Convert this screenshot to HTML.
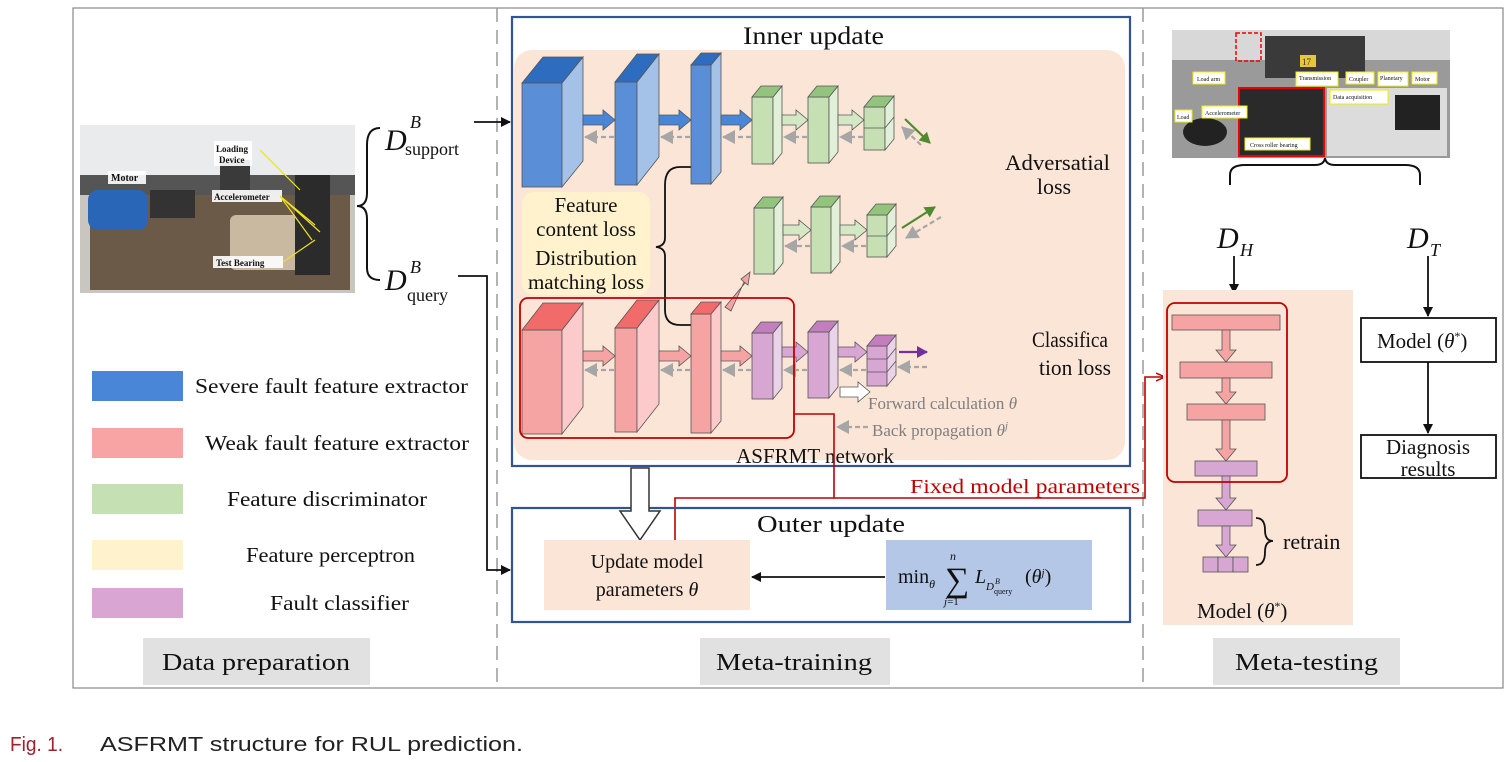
<!DOCTYPE html>
<html><head><meta charset="utf-8"><style>
html,body{margin:0;padding:0;background:#fff}
svg{display:block}
text{font-family:"Liberation Serif",serif;fill:#111}
</style></head><body>
<svg width="1512" height="762" viewBox="0 0 1512 762" xmlns="http://www.w3.org/2000/svg">
<defs>
<marker id="ah" markerWidth="10" markerHeight="10" refX="9" refY="5" orient="auto" markerUnits="userSpaceOnUse"><path d="M0,0 L10,5 L0,10 z" fill="#111"/></marker>
<marker id="ahr" markerWidth="10" markerHeight="10" refX="9" refY="5" orient="auto" markerUnits="userSpaceOnUse"><path d="M0,1 L9,5 L0,9" fill="none" stroke="#c00000" stroke-width="1.5"/></marker>
<marker id="ahg" markerWidth="14" markerHeight="14" refX="12" refY="7" orient="auto" markerUnits="userSpaceOnUse"><path d="M0,0 L13,7 L0,14 z" fill="#a6a6a6"/></marker>
<marker id="ahgr" markerWidth="12" markerHeight="12" refX="10" refY="6" orient="auto" markerUnits="userSpaceOnUse"><path d="M0,0 L11,6 L0,12 z" fill="#4e8a2e"/></marker>
<marker id="ahp" markerWidth="12" markerHeight="12" refX="10" refY="6" orient="auto" markerUnits="userSpaceOnUse"><path d="M0,0 L11,6 L0,12 z" fill="#7030a0"/></marker>
</defs>

<rect x="73" y="8" width="1430" height="680" fill="none" stroke="#888" stroke-width="1.2"/>
<line x1="497" y1="8" x2="497" y2="688" stroke="#999" stroke-width="1.5" stroke-dasharray="14,8"/>
<line x1="1143" y1="8" x2="1143" y2="688" stroke="#999" stroke-width="1.5" stroke-dasharray="14,8"/>

<!-- left photo -->
<rect x="80" y="125" width="275" height="168" fill="#c9c6bf"/>
<rect x="80" y="125" width="275" height="50" fill="#e9ebec"/>
<rect x="80" y="175" width="275" height="20" fill="#555"/>
<rect x="90" y="195" width="260" height="95" fill="#6b5a48"/>
<rect x="88" y="190" width="60" height="40" rx="10" fill="#2a66b8"/>
<rect x="150" y="190" width="45" height="28" fill="#333"/>
<rect x="230" y="215" width="75" height="55" rx="6" fill="#c9b9a1"/>
<rect x="295" y="175" width="35" height="100" fill="#2b2b2b"/>
<rect x="220" y="160" width="30" height="30" fill="#3a3a3a"/>
<rect x="108" y="171" width="38" height="13" fill="#fff" opacity="0.9"/><text x="111" y="181" font-size="10" font-weight="bold">Motor</text>
<rect x="214" y="141" width="38" height="25" fill="#fff" opacity="0.9"/><text x="216" y="152" font-size="9" font-weight="bold">Loading</text><text x="219" y="163" font-size="9" font-weight="bold">Device</text>
<rect x="212" y="190" width="70" height="12" fill="#fff" opacity="0.9"/><text x="214" y="200" font-size="9" font-weight="bold">Accelerometer</text>
<rect x="213" y="256" width="70" height="12" fill="#fff" opacity="0.9"/><text x="216" y="266" font-size="9" font-weight="bold">Test Bearing</text>
<path d="M280,196 L315,225 M280,196 L320,232 M280,196 L312,240 M283,262 L315,240 M260,150 L300,190" stroke="#f0e020" stroke-width="1.2"/>

<text x="385" y="150" font-size="30" font-style="italic">D</text><text x="410" y="128" font-size="18" font-style="italic">B</text><text x="405" y="155" font-size="18">support</text>
<text x="385" y="290" font-size="30" font-style="italic">D</text><text x="410" y="273" font-size="18" font-style="italic">B</text><text x="407" y="301" font-size="18">query</text>
<path d="M380,128 Q367,128 367,145 L367,193 Q367,206 357,206 Q367,206 367,219 L367,268 Q367,280 380,280" fill="none" stroke="#111" stroke-width="2"/>
<line x1="474" y1="122" x2="510" y2="122" stroke="#111" stroke-width="1.8" marker-end="url(#ah)"/>
<path d="M458,276 L487,276 L487,570 L510,570" fill="none" stroke="#111" stroke-width="1.8" marker-end="url(#ah)"/>

<!-- legend -->
<rect x="92" y="371" width="91" height="30" fill="#4a86d8"/><text x="195" y="393" font-size="21" textLength="273" lengthAdjust="spacingAndGlyphs">Severe fault feature extractor</text>
<rect x="92" y="428" width="91" height="30" fill="#f8a4a4"/><text x="205" y="450" font-size="21" textLength="264" lengthAdjust="spacingAndGlyphs">Weak fault feature extractor</text>
<rect x="92" y="484" width="91" height="30" fill="#c5e0b3"/><text x="227" y="506" font-size="21" textLength="200" lengthAdjust="spacingAndGlyphs">Feature discriminator</text>
<rect x="92" y="540" width="91" height="30" fill="#fff2cc"/><text x="246" y="562" font-size="21" textLength="169" lengthAdjust="spacingAndGlyphs">Feature perceptron</text>
<rect x="92" y="588" width="91" height="30" fill="#d9a6d4"/><text x="270" y="610" font-size="21" textLength="139" lengthAdjust="spacingAndGlyphs">Fault classifier</text>

<rect x="143" y="638" width="227" height="47" fill="#e1e1e1"/><text x="162" y="670" font-size="24" textLength="188" lengthAdjust="spacingAndGlyphs">Data preparation</text>
<rect x="700" y="638" width="190" height="47" fill="#e1e1e1"/><text x="716" y="670" font-size="24" textLength="156" lengthAdjust="spacingAndGlyphs">Meta-training</text>
<rect x="1213" y="638" width="187" height="47" fill="#e1e1e1"/><text x="1235" y="670" font-size="24" textLength="143" lengthAdjust="spacingAndGlyphs">Meta-testing</text>

<!-- inner update -->
<rect x="512" y="17" width="618" height="449" fill="none" stroke="#2f5597" stroke-width="2.2"/>
<text x="743" y="44" font-size="25" textLength="141" lengthAdjust="spacingAndGlyphs">Inner update</text>
<rect x="514" y="50" width="611" height="410" rx="18" fill="#fbe5d6"/>
<rect x="522" y="192" width="128" height="103" rx="12" fill="#fff2cc"/>
<text x="586" y="212" font-size="21" text-anchor="middle">Feature</text>
<text x="586" y="236" font-size="21" text-anchor="middle">content loss</text>
<text x="586" y="265" font-size="21" text-anchor="middle">Distribution</text>
<text x="586" y="289" font-size="21" text-anchor="middle">matching loss</text>
<path d="M691,167 L680,167 Q665,167 665,185 L665,238 Q665,246 656,247 Q665,248 665,256 L665,310 Q665,325 680,325 L691,325" fill="none" stroke="#111" stroke-width="1.8"/>

<g stroke="#555" stroke-width="0.8">
<rect x="522" y="83" width="40" height="104" fill="#5a8fd8"/><polygon points="562,83 583,57 583,161 562,187" fill="#a4c2e8"/><polygon points="522,83 543,57 583,57 562,83" fill="#2e6cc0"/>
<rect x="615" y="82" width="22" height="103" fill="#5a8fd8"/><polygon points="637,82 659,54 659,157 637,185" fill="#a4c2e8"/><polygon points="615,82 637,54 659,54 637,82" fill="#2e6cc0"/>
<rect x="691" y="65" width="20" height="119" fill="#5a8fd8"/><polygon points="711,65 721,53 721,172 711,184" fill="#a4c2e8"/><polygon points="691,65 701,53 721,53 711,65" fill="#2e6cc0"/>
<rect x="752" y="97" width="21" height="67" fill="#c6e0b4"/><polygon points="773,97 782,86 782,153 773,164" fill="#e2efd9"/><polygon points="752,97 761,86 782,86 773,97" fill="#93c47d"/>
<rect x="808" y="97" width="21" height="66" fill="#c6e0b4"/><polygon points="829,97 838,86 838,152 829,163" fill="#e2efd9"/><polygon points="808,97 817,86 838,86 829,97" fill="#93c47d"/>
<rect x="864" y="107" width="21" height="43" fill="#c6e0b4"/><polygon points="885,107 894,96 894,139 885,150" fill="#e2efd9"/><polygon points="864,107 873,96 894,96 885,107" fill="#93c47d"/><path d="M864,128 L885,128 L894,117" fill="none"/>
<rect x="754" y="208" width="20" height="66" fill="#c6e0b4"/><polygon points="774,208 783,197 783,263 774,274" fill="#e2efd9"/><polygon points="754,208 763,197 783,197 774,208" fill="#93c47d"/>
<rect x="811" y="207" width="20" height="66" fill="#c6e0b4"/><polygon points="831,207 840,196 840,262 831,273" fill="#e2efd9"/><polygon points="811,207 820,196 840,196 831,207" fill="#93c47d"/>
<rect x="867" y="215" width="20" height="42" fill="#c6e0b4"/><polygon points="887,215 896,204 896,246 887,257" fill="#e2efd9"/><polygon points="867,215 876,204 896,204 887,215" fill="#93c47d"/><path d="M867,236 L887,236 L896,225" fill="none"/>
<rect x="522" y="330" width="40" height="104" fill="#f6a3a3"/><polygon points="562,330 583,303 583,407 562,434" fill="#fccaca"/><polygon points="522,330 543,303 583,303 562,330" fill="#f26b6b"/>
<rect x="615" y="328" width="22" height="104" fill="#f6a3a3"/><polygon points="637,328 659,300 659,404 637,432" fill="#fccaca"/><polygon points="615,328 637,300 659,300 637,328" fill="#f26b6b"/>
<rect x="691" y="314" width="20" height="119" fill="#f6a3a3"/><polygon points="711,314 721,302 721,421 711,433" fill="#fccaca"/><polygon points="691,314 701,302 721,302 711,314" fill="#f26b6b"/>
<rect x="752" y="333" width="21" height="66" fill="#d7a6d2"/><polygon points="773,333 782,322 782,388 773,399" fill="#ead2e8"/><polygon points="752,333 761,322 782,322 773,333" fill="#c27ebd"/>
<rect x="808" y="332" width="21" height="66" fill="#d7a6d2"/><polygon points="829,332 838,321 838,387 829,398" fill="#ead2e8"/><polygon points="808,332 817,321 838,321 829,332" fill="#c27ebd"/>
<rect x="867" y="346" width="20" height="40" fill="#d7a6d2"/><polygon points="887,346 896,335 896,375 887,386" fill="#ead2e8"/><polygon points="867,346 876,335 896,335 887,346" fill="#c27ebd"/><path d="M867,359 L887,359 L896,348 M867,372 L887,372 L896,361" fill="none"/>
<polygon points="583,115 603,115 603,110 615,120 603,130 603,125 583,125" fill="#4a86d8"/>
<polygon points="659,115 679,115 679,110 691,120 679,130 679,125 659,125" fill="#4a86d8"/>
<polygon points="721,115 740,115 740,110 752,120 740,130 740,125 721,125" fill="#4a86d8"/>
<polygon points="782,115 796,115 796,110 808,120 796,130 796,125 782,125" fill="#d5e8c5"/>
<polygon points="838,115 852,115 852,110 864,120 852,130 852,125 838,125" fill="#d5e8c5"/>
<polygon points="783,225 799,225 799,220 811,230 799,240 799,235 783,235" fill="#d5e8c5"/>
<polygon points="840,225 855,225 855,220 867,230 855,240 855,235 840,235" fill="#d5e8c5"/>
<polygon points="583,351 603,351 603,346 615,356 603,366 603,361 583,361" fill="#f6a3a3"/>
<polygon points="659,351 679,351 679,346 691,356 679,366 679,361 659,361" fill="#f6a3a3"/>
<polygon points="721,351 740,351 740,346 752,356 740,366 740,361 721,361" fill="#f6a3a3"/>
<polygon points="782,347 796,347 796,342 808,352 796,362 796,357 782,357" fill="#d7a6d2"/>
<polygon points="838,347 855,347 855,342 867,352 855,362 855,357 838,357" fill="#d7a6d2"/>
<polygon points="725,307 745,283 741,279 750,272 748,285 744,282 731,311" fill="#f6a3a3"/>
<polygon points="840,387 858,387 858,382 870,392 858,402 858,397 840,397" fill="#fff"/>
</g>

<g stroke="#a6a6a6" stroke-width="2.2" stroke-dasharray="5,3" marker-end="url(#ahg)">
<line x1="614" y1="137" x2="585" y2="137"/><line x1="690" y1="137" x2="661" y2="137"/><line x1="751" y1="137" x2="723" y2="137"/>
<line x1="807" y1="137" x2="784" y2="137"/><line x1="863" y1="137" x2="840" y2="137"/>
<line x1="810" y1="246" x2="785" y2="246"/><line x1="866" y1="246" x2="842" y2="246"/>
<line x1="614" y1="370" x2="585" y2="370"/><line x1="690" y1="370" x2="661" y2="370"/><line x1="751" y1="370" x2="723" y2="370"/>
<line x1="807" y1="370" x2="784" y2="370"/><line x1="866" y1="370" x2="840" y2="370"/>
<line x1="927" y1="367" x2="898" y2="367"/>
<line x1="921" y1="145" x2="902" y2="127"/><line x1="941" y1="217" x2="906" y2="238"/>
<line x1="868" y1="427" x2="837" y2="427"/>
</g>
<line x1="905" y1="119" x2="930" y2="143" stroke="#4e8a2e" stroke-width="2.2" marker-end="url(#ahgr)"/>
<line x1="902" y1="228" x2="935" y2="207" stroke="#4e8a2e" stroke-width="2.2" marker-end="url(#ahgr)"/>
<line x1="899" y1="352" x2="927" y2="352" stroke="#7030a0" stroke-width="2.2" marker-end="url(#ahp)"/>

<text x="1005" y="170" font-size="22" textLength="105" lengthAdjust="spacingAndGlyphs">Adversatial</text>
<text x="1054" y="194" font-size="22" text-anchor="middle">loss</text>
<text x="1032" y="347" font-size="22" textLength="76" lengthAdjust="spacingAndGlyphs">Classifica</text>
<text x="1039" y="375" font-size="22" textLength="72" lengthAdjust="spacingAndGlyphs">tion loss</text>
<text x="868" y="409" font-size="17" style="fill:#7f7f7f">Forward calculation <tspan font-style="italic">θ</tspan></text>
<text x="872" y="436" font-size="17" style="fill:#7f7f7f">Back propagation <tspan font-style="italic">θ</tspan><tspan font-size="11" dy="-7" font-style="italic">j</tspan></text>

<rect x="520" y="298" width="274" height="140" rx="8" fill="none" stroke="#c00000" stroke-width="1.8"/>
<text x="815" y="463" font-size="21" text-anchor="middle">ASFRMT network</text>

<path d="M794,414 L834,414 L834,498 L1145,498 L1145,377 L1165,377" fill="none" stroke="#c00000" stroke-width="1.6" marker-end="url(#ahr)"/>
<path d="M834,498 L675,498 L675,540" fill="none" stroke="#c00000" stroke-width="1.6"/>
<rect x="908" y="474" width="234" height="22" fill="#fff"/>
<text x="910" y="493" font-size="20" textLength="230" lengthAdjust="spacingAndGlyphs" style="fill:#c00000">Fixed model parameters</text>

<rect x="512" y="508" width="618" height="114" fill="none" stroke="#2f5597" stroke-width="2.2"/>
<polygon points="631,468 649,468 649,511 660,511 640,540 620,511 631,511" fill="#fff" stroke="#333" stroke-width="1.5"/>
<text x="757" y="532" font-size="24" textLength="148" lengthAdjust="spacingAndGlyphs">Outer update</text>
<rect x="544" y="540" width="206" height="70" fill="#fbe5d6"/>
<text x="647" y="568" font-size="20" text-anchor="middle">Update model</text>
<text x="647" y="596" font-size="20" text-anchor="middle">parameters <tspan font-style="italic">θ</tspan></text>
<rect x="886" y="540" width="206" height="70" fill="#b4c7e7"/>
<text x="898" y="583" font-size="20">min<tspan font-size="12" dy="5" font-style="italic">θ</tspan></text>
<text x="945" y="591" font-size="34">∑</text>
<text x="950" y="560" font-size="12" font-style="italic">n</text>
<text x="944" y="605" font-size="11"><tspan font-style="italic">j</tspan>=1</text>
<text x="975" y="583" font-size="20" font-style="italic">L</text>
<text x="986" y="590" font-size="11" font-style="italic">D</text><text x="995" y="584" font-size="8" font-style="italic">B</text><text x="994" y="594" font-size="8">query</text>
<text x="1025" y="583" font-size="20">(<tspan font-style="italic">θ</tspan><tspan font-size="11" dy="-7" font-style="italic">j</tspan><tspan dy="7">)</tspan></text>
<line x1="885" y1="577" x2="752" y2="577" stroke="#111" stroke-width="1.8" marker-end="url(#ah)"/>

<!-- right photo -->
<rect x="1172" y="30" width="278" height="128" fill="#9a9a9a"/>
<rect x="1172" y="30" width="278" height="30" fill="#d8d8d8"/>
<rect x="1265" y="36" width="100" height="42" fill="#3a3a3a"/>
<rect x="1300" y="55" width="16" height="12" fill="#e8c63a"/><text x="1302" y="65" font-size="9" style="fill:#333">17</text>
<rect x="1239" y="88" width="85" height="68" fill="#2a2a2a" stroke="#e00" stroke-width="2"/>
<rect x="1327" y="88" width="120" height="68" fill="#dcdcdc"/>
<rect x="1395" y="95" width="45" height="35" fill="#222"/>
<rect x="1236" y="33" width="25" height="28" fill="none" stroke="#e00" stroke-width="1.5" stroke-dasharray="4,2"/>
<ellipse cx="1205" cy="132" rx="22" ry="14" fill="#222"/>
<g font-size="6"><rect x="1193" y="72" width="32" height="12" fill="#fff" stroke="#ee0"/><text x="1197" y="81">Load arm</text>
<rect x="1296" y="72" width="42" height="14" fill="#fff" stroke="#ee0"/><text x="1299" y="80">Transmission</text>
<rect x="1346" y="72" width="28" height="12" fill="#fff" stroke="#ee0"/><text x="1349" y="81">Coupler</text>
<rect x="1378" y="72" width="30" height="14" fill="#fff" stroke="#ee0"/><text x="1380" y="80">Planetary</text>
<rect x="1412" y="72" width="25" height="12" fill="#fff" stroke="#ee0"/><text x="1415" y="81">Motor</text>
<rect x="1175" y="110" width="17" height="12" fill="#fff" stroke="#ee0"/><text x="1177" y="119">Load</text>
<rect x="1202" y="106" width="45" height="12" fill="#fff" stroke="#ee0"/><text x="1205" y="115">Accelerometer</text>
<rect x="1245" y="138" width="65" height="12" fill="#fff" stroke="#ee0"/><text x="1250" y="147">Cross roller bearing</text>
<rect x="1330" y="90" width="58" height="14" fill="#fff" stroke="#ee0"/><text x="1333" y="99">Data acquisition</text></g>

<path d="M1230,185 L1230,175 Q1230,165 1245,165 L1315,165 Q1324,165 1325,158 Q1326,165 1335,165 L1405,165 Q1420,165 1420,175 L1420,185" fill="none" stroke="#111" stroke-width="2"/>
<text x="1217" y="248" font-size="30" font-style="italic">D</text><text x="1240" y="256" font-size="18" font-style="italic">H</text>
<text x="1407" y="248" font-size="30" font-style="italic">D</text><text x="1430" y="256" font-size="18" font-style="italic">T</text>
<line x1="1234" y1="256" x2="1234" y2="293" stroke="#111" stroke-width="1.8" marker-end="url(#ah)"/>
<line x1="1428" y1="256" x2="1428" y2="316" stroke="#111" stroke-width="1.8" marker-end="url(#ah)"/>
<line x1="1428" y1="362" x2="1428" y2="433" stroke="#111" stroke-width="1.8" marker-end="url(#ah)"/>

<rect x="1163" y="290" width="190" height="335" fill="#fbe5d6"/>
<g stroke="#555" stroke-width="0.8">
<rect x="1172" y="315" width="108" height="15" fill="#f6a3a3"/>
<rect x="1180" y="362" width="92" height="16" fill="#f6a3a3"/>
<rect x="1187" y="404" width="78" height="16" fill="#f6a3a3"/>
<rect x="1195" y="461" width="62" height="15" fill="#d7a6d2"/>
<rect x="1198" y="510" width="54" height="16" fill="#d7a6d2"/>
<rect x="1203" y="557" width="15" height="15" fill="#d7a6d2"/><rect x="1218" y="557" width="15" height="15" fill="#d7a6d2"/><rect x="1233" y="557" width="15" height="15" fill="#d7a6d2"/>
<polygon points="1222,330 1230,330 1230,350 1236,350 1226,362 1216,350 1222,350" fill="#f6a3a3"/>
<polygon points="1222,378 1230,378 1230,392 1236,392 1226,404 1216,392 1222,392" fill="#f6a3a3"/>
<polygon points="1222,420 1230,420 1230,449 1236,449 1226,461 1216,449 1222,449" fill="#f6a3a3"/>
<polygon points="1222,476 1230,476 1230,498 1236,498 1226,510 1216,498 1222,498" fill="#d7a6d2"/>
<polygon points="1222,526 1230,526 1230,545 1236,545 1226,557 1216,545 1222,545" fill="#d7a6d2"/>
</g>
<rect x="1167" y="303" width="120" height="179" rx="8" fill="none" stroke="#c00000" stroke-width="1.8"/>
<path d="M1256,518 Q1265,518 1265,530 Q1265,541 1273,541 Q1265,541 1265,552 Q1265,565 1256,565" fill="none" stroke="#111" stroke-width="1.8"/>
<text x="1283" y="549" font-size="22">retrain</text>
<text x="1197" y="618" font-size="21">Model (<tspan font-style="italic">θ</tspan><tspan font-size="12" dy="-8">*</tspan><tspan dy="8">)</tspan></text>

<rect x="1361" y="318" width="135" height="44" fill="#fff" stroke="#111" stroke-width="1.8"/>
<text x="1377" y="348" font-size="21">Model (<tspan font-style="italic">θ</tspan><tspan font-size="12" dy="-8">*</tspan><tspan dy="8">)</tspan></text>
<rect x="1361" y="435" width="135" height="43" fill="#fff" stroke="#111" stroke-width="1.8"/>
<text x="1428" y="454" font-size="21" text-anchor="middle">Diagnosis</text>
<text x="1428" y="476" font-size="21" text-anchor="middle">results</text>

<text x="10" y="751" font-size="20" textLength="53" lengthAdjust="spacingAndGlyphs" style="font-family:'Liberation Sans',sans-serif;fill:#a0202a">Fig. 1.</text>
<text x="100" y="751" font-size="20" textLength="423" lengthAdjust="spacingAndGlyphs" style="font-family:'Liberation Sans',sans-serif;fill:#222">ASFRMT structure for RUL prediction.</text>
</svg>
</body></html>
